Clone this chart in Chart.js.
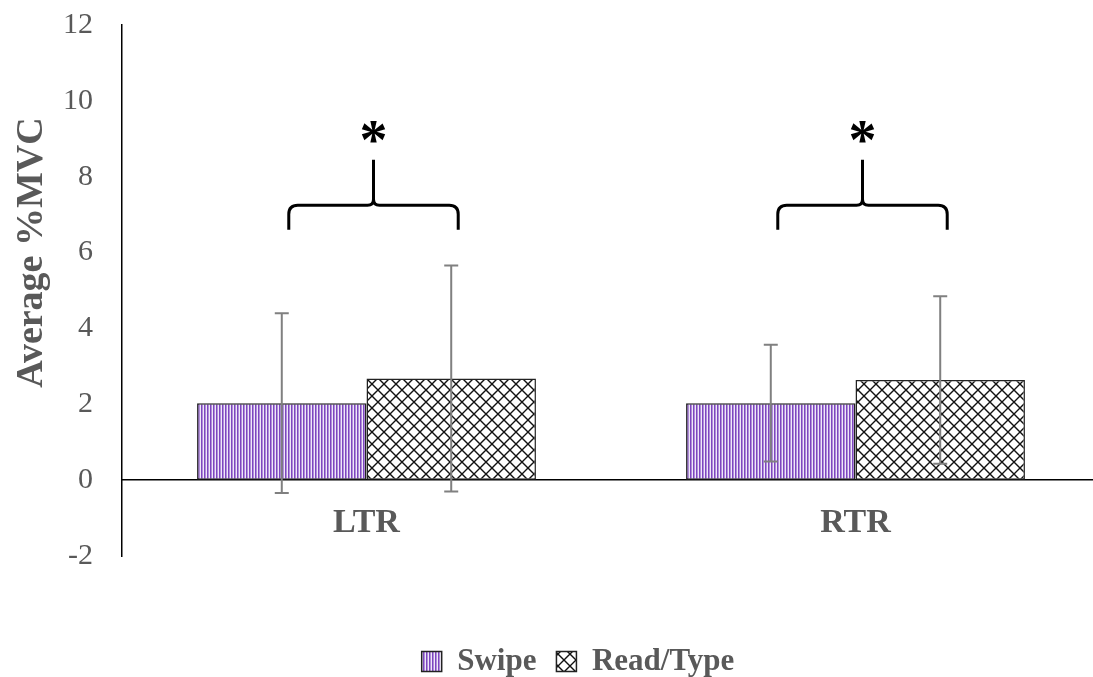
<!DOCTYPE html>
<html>
<head>
<meta charset="utf-8">
<script src="https://cdn.jsdelivr.net/npm/chart.js@4.4.0/dist/chart.umd.min.js"></script>
<style>
  html, body { margin: 0; padding: 0; background: #fff; overflow: hidden; }
  canvas { display: block; }
</style>
</head>
<body>
<canvas id="mvc-chart" width="1100" height="677"></canvas>
<script>
const CATEGORIES = ["LTR", "RTR"];
const SWIPE_MEAN = [2.03, 2.03];
const SWIPE_SD = [2.37, 1.54];
const READ_MEAN = [2.68, 2.64];
const READ_SD = [2.98, 2.21];
const Y_TICKS = [-2, 0, 2, 4, 6, 8, 10, 12];
// significance brace levels in %MVC: leg bottom, bar, tip, star
const BRACE_LEVELS = [6.6, 7.25, 8.45, 9.1];
const SIG_LABELS = ["*", "*"];

const GREY = "#595959";
const SERIF = "'Liberation Serif', 'Times New Roman', serif";

// narrow vertical stripes, like the Excel pattern fill
function stripePattern() {
  const c = document.createElement("canvas");
  c.width = 3; c.height = 3;
  const g = c.getContext("2d");
  g.fillStyle = "#7d46bf";
  g.fillRect(0, 0, 1, 3);
  g.fillStyle = "#b08ed9";
  g.fillRect(1, 0, 1, 3);
  g.fillStyle = "#efe8f8";
  g.fillRect(2, 0, 1, 3);
  return g.createPattern(c, "repeat");
}

// diagonal crosshatch
function hatchPattern() {
  const c = document.createElement("canvas");
  c.width = 12; c.height = 12;
  const g = c.getContext("2d");
  g.fillStyle = "#fff";
  g.fillRect(0, 0, 12, 12);
  g.strokeStyle = "#111";
  g.lineWidth = 1.4;
  g.beginPath();
  g.moveTo(0, 0); g.lineTo(12, 12);
  g.moveTo(12, 0); g.lineTo(0, 12);
  g.stroke();
  return g.createPattern(c, "repeat");
}

const errorBars = {
  id: "errorBars",
  afterDatasetsDraw(chart) {
    const ctx = chart.ctx;
    const y = chart.scales.y;
    ctx.save();
    ctx.strokeStyle = "#808080";
    ctx.lineWidth = 2;
    chart.data.datasets.forEach((ds, i) => {
      chart.getDatasetMeta(i).data.forEach((bar, j) => {
        const top = y.getPixelForValue(ds.data[j] + ds.sd[j]);
        const bot = y.getPixelForValue(ds.data[j] - ds.sd[j]);
        ctx.beginPath();
        ctx.moveTo(bar.x, top); ctx.lineTo(bar.x, bot);
        ctx.moveTo(bar.x - 7, top); ctx.lineTo(bar.x + 7, top);
        ctx.moveTo(bar.x - 7, bot); ctx.lineTo(bar.x + 7, bot);
        ctx.stroke();
      });
    });
    ctx.restore();
  }
};

const sigBraces = {
  id: "sigBraces",
  afterDraw(chart) {
    const ctx = chart.ctx;
    const y = chart.scales.y;
    const a = chart.getDatasetMeta(0).data;
    const b = chart.getDatasetMeta(1).data;
    const [legY, barY, tipY, starY] = BRACE_LEVELS.map((v) => y.getPixelForValue(v));
    ctx.save();
    ctx.strokeStyle = "#000";
    ctx.lineWidth = 3;
    ctx.fillStyle = "#000";
    ctx.font = "bold 56px " + SERIF;
    ctx.textAlign = "center";
    ctx.textBaseline = "middle";
    CATEGORIES.forEach((cat, j) => {
      const x1 = a[j].x + 7, x2 = b[j].x + 7, xm = (x1 + x2) / 2;
      const r = 9, s = 6;
      ctx.beginPath();
      ctx.moveTo(x1, legY); ctx.lineTo(x1, barY + r);
      ctx.quadraticCurveTo(x1, barY, x1 + r, barY);
      ctx.lineTo(xm - s, barY);
      ctx.quadraticCurveTo(xm, barY, xm, barY - s);
      ctx.lineTo(xm, tipY);
      ctx.moveTo(x2, legY); ctx.lineTo(x2, barY + r);
      ctx.quadraticCurveTo(x2, barY, x2 - r, barY);
      ctx.lineTo(xm + s, barY);
      ctx.quadraticCurveTo(xm, barY, xm, barY - s);
      ctx.stroke();
      ctx.fillText(SIG_LABELS[j], xm, starY + 10);
    });
    ctx.restore();
  }
};

new Chart(document.getElementById("mvc-chart"), {
  type: "bar",
  data: {
    labels: CATEGORIES,
    datasets: [
      {
        label: "Swipe",
        data: SWIPE_MEAN,
        sd: SWIPE_SD,
        backgroundColor: stripePattern(),
        borderColor: "#222",
        borderWidth: 1.5,
        borderSkipped: false,
      },
      {
        label: "Read/Type",
        data: READ_MEAN,
        sd: READ_SD,
        backgroundColor: hatchPattern(),
        borderColor: "#222",
        borderWidth: 1.5,
        borderSkipped: false,
      },
    ],
  },
  plugins: [errorBars, sigBraces],
  options: {
    responsive: false,
    animation: false,
    devicePixelRatio: 1,
    layout: { padding: { left: 56, right: 0, top: 25, bottom: -10 } },
    datasets: { bar: { barPercentage: 1, categoryPercentage: 0.693 } },
    plugins: {
      tooltip: { enabled: false },
      legend: {
        position: "bottom",
        title: { display: true, text: "", font: { size: 10, lineHeight: 1 }, padding: { top: 60, bottom: 0 } },
        labels: {
          boxWidth: 20,
          boxHeight: 20,
          padding: 20,
          color: GREY,
          font: { family: SERIF, size: 31, weight: "bold" },
        },
      },
    },
    scales: {
      x: {
        position: { y: 0 },
        grid: { color: "transparent", tickLength: 23 },
        border: { display: true, color: "#000", width: 1.5 },
        ticks: { color: GREY, padding: 0, font: { family: SERIF, size: 34, weight: "bold" } },
      },
      y: {
        min: Y_TICKS[0],
        max: Y_TICKS[Y_TICKS.length - 1],
        afterFit: (s) => { s.width = 66; },
        grid: { color: "transparent", tickLength: 29 },
        border: { display: true, color: "#000", width: 1.5 },
        ticks: { stepSize: Y_TICKS[1] - Y_TICKS[0], color: GREY, padding: 0, font: { family: SERIF, size: 30 } },
        title: {
          display: true,
          text: "        Average %MVC",
          color: GREY,
          padding: { top: -43, bottom: 0 },
          font: { family: SERIF, size: 38, weight: "bold", lineHeight: 1 },
        },
      },
    },
  },
});
</script>
</body>
</html>
